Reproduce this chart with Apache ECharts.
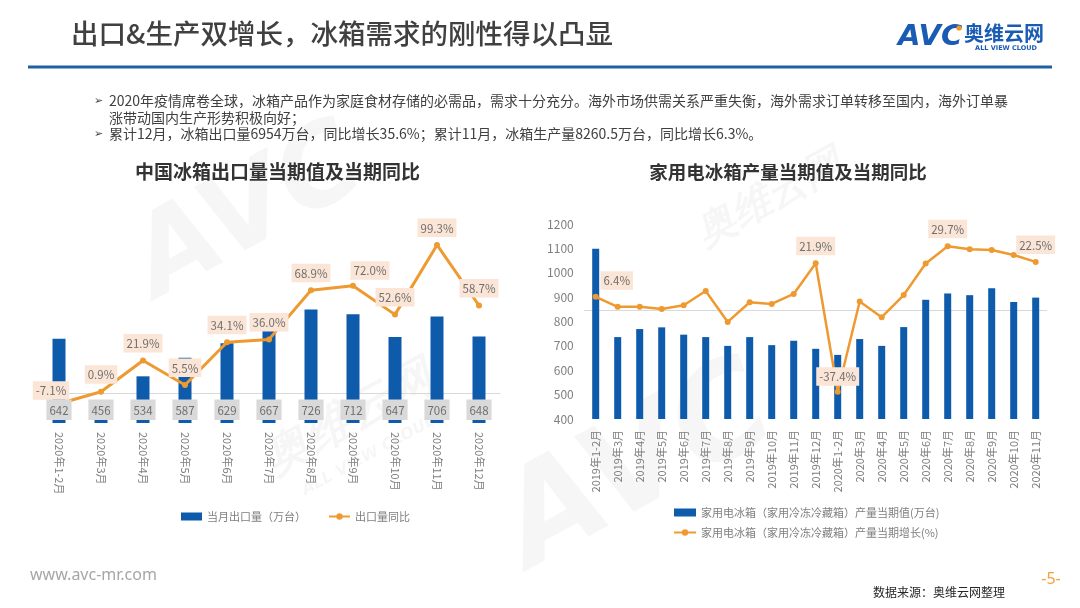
<!DOCTYPE html>
<html>
<head>
<meta charset="utf-8">
<script src="https://cdn.jsdelivr.net/npm/echarts@6/dist/echarts.min.js"></script>
<style>html,body{margin:0;padding:0;background:#fff}#c{width:1080px;height:608px}</style>
</head>
<body>
<div id="c"></div>
<script>
// ---- data ----
const exportMonths = ['2020年1-2月','2020年3月','2020年4月','2020年5月','2020年6月','2020年7月','2020年8月','2020年9月','2020年10月','2020年11月','2020年12月'];
const exportVolume = [642,456,534,587,629,667,726,712,647,706,648];
const exportYoY = [-7.1,0.9,21.9,5.5,34.1,36.0,68.9,72.0,52.6,99.3,58.7];

const prodMonths = ['2019年1-2月','2019年3月','2019年4月','2019年5月','2019年6月','2019年7月','2019年8月','2019年9月','2019年10月','2019年11月','2019年12月',
  '2020年1-2月','2020年3月','2020年4月','2020年5月','2020年6月','2020年7月','2020年8月','2020年9月','2020年10月','2020年11月'];
const prodVolume = [1098,736,769,776,746,736,700,736,703,721,688,663,728,700,777,889,915,908,936,880,898];
const prodYoY = [6.4,1.8,1.8,0.8,2.5,9.1,-5.2,3.9,3.1,7.7,21.9,-37.4,4.2,-3.0,7.2,21.8,29.7,28.3,28.0,25.7,22.5];
const prodYoYLabeled = [0,10,11,16,20];

const exportBarName = '当月出口量（万台）';
const exportLineName = '出口量同比';
const prodBarName = '家用电冰箱（家用冷冻冷藏箱）产量当期值(万台)';
const prodLineName = '家用电冰箱（家用冷冻冷藏箱）产量当期增长(%)';

// ---- styles ----
const FONT = "'Noto Sans CJK SC','Noto Sans',sans-serif";
const BLUE = '#0D5BAA';
const ORANGE = '#EE9A31';
const PEACH = '#FBE5D6';
const LABEL_TXT = '#6F6F6F';
const AXIS_TXT = '#7F7F7F';

const pct = p => p.value.toFixed(1) + '%';

// per-point label nudges (visual only)
const exportLabelOffset = {0: [-8, 4], 7: [17, 2]};
const prodLabelOffset = {0: [21, 1], 11: [0, 2]};

const exportLineData = exportYoY.map((v, i) => exportLabelOffset[i] ? {value: v, label: {offset: exportLabelOffset[i]}} : v);
const prodLineData = prodYoY.map((v, i) => {
  const item = {value: v};
  if (prodYoYLabeled.indexOf(i) >= 0) {
    item.label = {show: true};
    if (prodLabelOffset[i]) item.label.offset = prodLabelOffset[i];
  }
  return item;
});

const lineLabel = {
  position: 'top', distance: 5, formatter: pct,
  backgroundColor: PEACH, padding: [4, 3, 3, 3],
  color: LABEL_TXT, fontSize: 11.5, fontFamily: FONT
};

const txt = (text, x, y, o) => Object.assign({
  type: 'text', x: x, y: y, silent: true,
  style: Object.assign({text: text, fontFamily: FONT, fontSize: 12, fill: '#333',
    align: 'left', verticalAlign: 'middle', textAlign: 'left', textVerticalAlign: 'middle'}, o || {})
});

const wm = (text, x, y, size, rot, weight) => ({
  type: 'text', x: x, y: y, rotation: rot, silent: true, z: -10,
  style: {text: text, fontFamily: "'DejaVu Sans',sans-serif", fontSize: size, fontWeight: weight || 'bold',
    fontStyle: 'italic', fill: 'rgba(0,0,0,0.035)', align: 'center', verticalAlign: 'middle',
    textAlign: 'center', textVerticalAlign: 'middle'}
});

const chart = echarts.init(document.getElementById('c'), null, {renderer: 'canvas'});

chart.setOption({
  backgroundColor: '#fff',
  animation: false,
  textStyle: {fontFamily: FONT},
  grid: [
    {left: 38, top: 214, width: 462, height: 209},
    {left: 584.7, top: 224, width: 462, height: 195}
  ],
  xAxis: [
    {type: 'category', gridIndex: 0, data: exportMonths,
     axisLine: {lineStyle: {color: '#D9D9D9'}}, axisTick: {show: false},
     axisLabel: {rotate: -90, margin: 9, fontSize: 11, color: AXIS_TXT, fontFamily: FONT, interval: 0}},
    {type: 'category', gridIndex: 1, data: prodMonths,
     axisLine: {lineStyle: {color: '#D9D9D9'}}, axisTick: {show: false},
     axisLabel: {rotate: 90, margin: 11, fontSize: 11, color: AXIS_TXT, fontFamily: FONT, interval: 0}}
  ],
  yAxis: [
    {type: 'value', gridIndex: 0, min: 400, max: 1000, show: false},
    {type: 'value', gridIndex: 0, min: -20, max: 120, show: false},
    {type: 'value', gridIndex: 1, min: 400, max: 1200, interval: 100,
     axisLine: {show: false}, axisTick: {show: false}, splitLine: {show: false},
     axisLabel: {fontSize: 12, color: AXIS_TXT, margin: 11, fontFamily: FONT, formatter: v => String(v)}},
    {type: 'value', gridIndex: 1, min: -50, max: 40, show: false}
  ],
  legend: [
    {data: [{name: exportBarName, icon: 'rect'}, {name: exportLineName}],
     left: 176, top: 506, itemWidth: 21, itemHeight: 8, itemGap: 22,
     textStyle: {fontSize: 11, color: AXIS_TXT, fontFamily: FONT}},
    {data: [{name: prodBarName, icon: 'rect'}, {name: prodLineName}],
     orient: 'vertical', left: 668, top: 502, itemWidth: 22, itemHeight: 8, itemGap: 9,
     textStyle: {fontSize: 11, color: AXIS_TXT, fontFamily: FONT}}
  ],
  series: [
    {name: exportBarName, type: 'bar', xAxisIndex: 0, yAxisIndex: 0, data: exportVolume,
     barWidth: 13, barGap: '-100%', itemStyle: {color: BLUE}, z: 2},
    {name: 'exportLabels', type: 'bar', xAxisIndex: 0, yAxisIndex: 0, data: exportVolume,
     barWidth: 13, barGap: '-100%', itemStyle: {color: 'rgba(0,0,0,0)'}, z: 5, silent: true,
     label: {show: true, position: 'insideBottom', distance: 3, backgroundColor: '#D9D9D9',
       padding: [5, 3, 4, 3], color: LABEL_TXT, fontSize: 11.5, fontFamily: FONT}},
    {name: exportLineName, type: 'line', xAxisIndex: 0, yAxisIndex: 1, data: exportLineData,
     z: 3, symbol: 'circle', symbolSize: 6, itemStyle: {color: ORANGE},
     lineStyle: {color: ORANGE, width: 3},
     label: Object.assign({show: true}, lineLabel)},
    {name: prodBarName, type: 'bar', xAxisIndex: 1, yAxisIndex: 2, data: prodVolume,
     barWidth: 7, itemStyle: {color: BLUE}, z: 2},
    {name: prodLineName, type: 'line', xAxisIndex: 1, yAxisIndex: 3, data: prodLineData,
     z: 3, symbol: 'circle', symbolSize: 6, itemStyle: {color: ORANGE},
     lineStyle: {color: ORANGE, width: 2.5},
     label: Object.assign({show: false}, lineLabel)}
  ],
  graphic: [
    // watermarks
    wm('AVC', 250, 215, 110, 0.5),
    wm('AVC', 640, 470, 130, 0.5),
    wm('奥维云网', 350, 420, 46, 0.5),
    wm('ALL VIEW CLOUD', 370, 455, 16, 0.5),
    wm('奥维云网', 770, 200, 40, 0.5),
    // header
    txt('出口&生产双增长，冰箱需求的刚性得以凸显', 71, 34, {fontSize: 27.5, fontWeight: 500, fill: '#404040'}),
    {type: 'rect', silent: true, shape: {x: 28, y: 65.5, width: 1024, height: 3}, style: {fill: '#1F5FA6'}},
    // logo
    txt('AVC', 898, 37, {fontFamily: "'DejaVu Sans',sans-serif", fontSize: 29, fontWeight: 'bold', fontStyle: 'italic', fill: '#1A5CB3'}),
    {type: 'circle', silent: true, shape: {cx: 959, cy: 28, r: 2.6}, style: {fill: '#F39A1E'}},
    txt('奥维云网', 964, 33, {fontSize: 20, fontWeight: 'bold', fill: '#1A5CB3'}),
    txt('ALL VIEW CLOUD', 1006, 48, {fontFamily: "'DejaVu Sans',sans-serif", fontSize: 6.5, fontWeight: 'bold', fill: '#1A5CB3', align: 'center', textAlign: 'center'}),
    // bullets
    txt('➢', 94, 101, {fontFamily: "'DejaVu Sans',sans-serif", fontSize: 11, fill: '#404040'}),
    txt('2020年疫情席卷全球，冰箱产品作为家庭食材存储的必需品，需求十分充分。海外市场供需关系严重失衡，海外需求订单转移至国内，海外订单暴', 109, 101, {fontSize: 14, fill: '#404040'}),
    txt('涨带动国内生产形势积极向好；', 109, 117.5, {fontSize: 14, fill: '#404040'}),
    txt('➢', 94, 134, {fontFamily: "'DejaVu Sans',sans-serif", fontSize: 11, fill: '#404040'}),
    txt('累计12月，冰箱出口量6954万台，同比增长35.6%；累计11月，冰箱生产量8260.5万台，同比增长6.3%。', 109, 134, {fontSize: 14, fill: '#404040'}),
    // chart titles
    txt('中国冰箱出口量当期值及当期同比', 277.5, 172, {fontSize: 19, fontWeight: 'bold', fill: '#333', align: 'center', textAlign: 'center'}),
    txt('家用电冰箱产量当期值及当期同比', 788, 172, {fontSize: 18.5, fontWeight: 'bold', fill: '#333', align: 'center', textAlign: 'center'}),
    // footer
    txt('www.avc-mr.com', 30, 575, {fontFamily: "'Noto Sans',sans-serif", fontSize: 16, fill: '#A6A6A6'}),
    txt('-5-', 1051, 579, {fontFamily: "'Noto Sans',sans-serif", fontSize: 16, fill: '#F2A13B', align: 'center', textAlign: 'center'}),
    txt('数据来源：奥维云网整理', 873, 592, {fontSize: 12, fill: '#262626'})
  ]
});
</script>
</body>
</html>
